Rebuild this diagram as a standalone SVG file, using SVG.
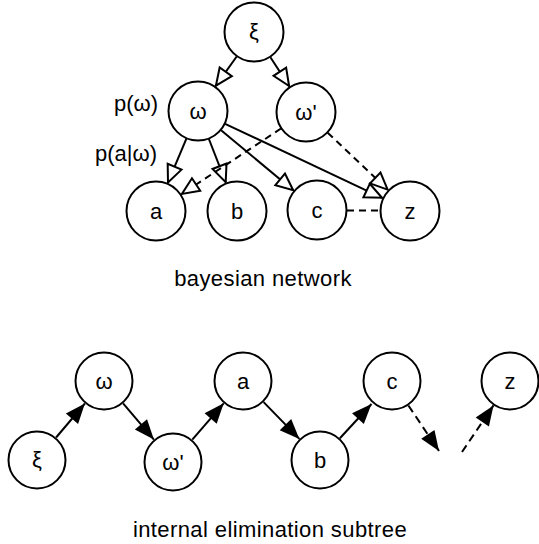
<svg xmlns="http://www.w3.org/2000/svg" width="539" height="544" viewBox="0 0 539 544">
<style>
.node circle { fill: #fff; stroke: #000; stroke-width: 2; }
text { font-family: "Liberation Sans", Arial, Helvetica, sans-serif; font-size: 22px; fill: #000; }
.node text { text-anchor: middle; }
.lbl { text-anchor: end; }
.title { text-anchor: middle; letter-spacing: 0.4px; }
.edge { stroke: #000; stroke-width: 2; fill: none; }
.dash { stroke-dasharray: 7 5; }
.dash2 { stroke-dasharray: 8 5; }
.open { marker-end: url(#openArrow); }
.solid { marker-end: url(#fillArrow); }
</style>
<defs>
<marker id="openArrow" markerUnits="userSpaceOnUse" orient="auto" markerWidth="22" markerHeight="22" refX="17" refY="7.5" overflow="visible">
<path d="M0,0 L17,7.5 L0,15 Z" fill="#fff" stroke="#000" stroke-width="2" stroke-dasharray="none" stroke-linejoin="miter"/>
</marker>
<marker id="fillArrow" markerUnits="userSpaceOnUse" orient="auto" markerWidth="22" markerHeight="22" refX="20" refY="8" overflow="visible">
<path d="M0,0 L20,8 L0,16 Z" fill="#000" stroke="none"/>
</marker>
</defs>
<g id="connectors">
<line class="edge open" x1="236.7" y1="56.5" x2="215.9" y2="85.7"/>
<line class="edge open" x1="270.4" y1="57.2" x2="289.1" y2="86"/>
<line class="edge open" x1="186.4" y1="138.7" x2="168" y2="182.4"/>
<line class="edge open" x1="208.9" y1="139" x2="225.7" y2="182.1"/>
<line class="edge open" x1="221.1" y1="130.2" x2="293.2" y2="190.2"/>
<line class="edge open" x1="225.1" y1="123.8" x2="382" y2="197.8"/>
<line class="edge open dash" x1="281" y1="128.5" x2="181.9" y2="193.9"/>
<line class="edge open dash" x1="327.7" y1="132.7" x2="387.6" y2="189.6"/>
<line class="edge dash" x1="347" y1="210.5" x2="380" y2="210.5"/>
<line class="edge solid" x1="56.1" y1="437.5" x2="84.9" y2="403.5"/>
<line class="edge solid" x1="123.1" y1="403.4" x2="153.9" y2="439.6"/>
<line class="edge solid" x1="192.3" y1="439.7" x2="223.7" y2="403.3"/>
<line class="edge solid" x1="263.6" y1="402.1" x2="299.4" y2="438.9"/>
<line class="edge solid" x1="339.9" y1="438.2" x2="371.5" y2="404"/>
<line class="edge solid dash2" x1="408.4" y1="405.5" x2="439" y2="451"/>
<line class="edge solid dash2" x1="462" y1="452" x2="493.5" y2="405.4"/>
</g>
<text class="lbl" x="158" y="111">p(ω)</text>
<text class="lbl" x="157" y="161">p(a|ω)</text>
<g id="n-xi" class="node"><circle cx="254" cy="32" r="29.5"/><text x="254" y="39">ξ</text></g>
<g id="n-omega" class="node"><circle cx="198" cy="111" r="29.5"/><text x="198" y="119">ω</text></g>
<g id="n-omegap" class="node"><circle cx="306" cy="112" r="29.5"/><text x="306" y="120">ω'</text></g>
<g id="n-a" class="node"><circle cx="156" cy="211" r="29.5"/><text x="156" y="219">a</text></g>
<g id="n-b" class="node"><circle cx="237" cy="211" r="29.5"/><text x="237" y="219">b</text></g>
<g id="n-c" class="node"><circle cx="317" cy="210" r="29.5"/><text x="317" y="218">c</text></g>
<g id="n-z" class="node"><circle cx="410" cy="211" r="29.5"/><text x="410" y="219">z</text></g>
<text class="title" x="263" y="286">bayesian network</text>
<g id="m-xi" class="node"><circle cx="37" cy="460" r="28.5"/><text x="37" y="467">ξ</text></g>
<g id="m-omega" class="node"><circle cx="104" cy="381" r="28.5"/><text x="104" y="389">ω</text></g>
<g id="m-omegap" class="node"><circle cx="173" cy="462" r="28.5"/><text x="173" y="470">ω'</text></g>
<g id="m-a" class="node"><circle cx="243" cy="381" r="28.5"/><text x="243" y="389">a</text></g>
<g id="m-b" class="node"><circle cx="320" cy="460" r="28.5"/><text x="320" y="468">b</text></g>
<g id="m-c" class="node"><circle cx="392" cy="381" r="28.5"/><text x="392" y="389">c</text></g>
<g id="m-z" class="node"><circle cx="510" cy="381" r="28.5"/><text x="510" y="389">z</text></g>
<text class="title" x="270" y="537">internal elimination subtree</text>
</svg>
